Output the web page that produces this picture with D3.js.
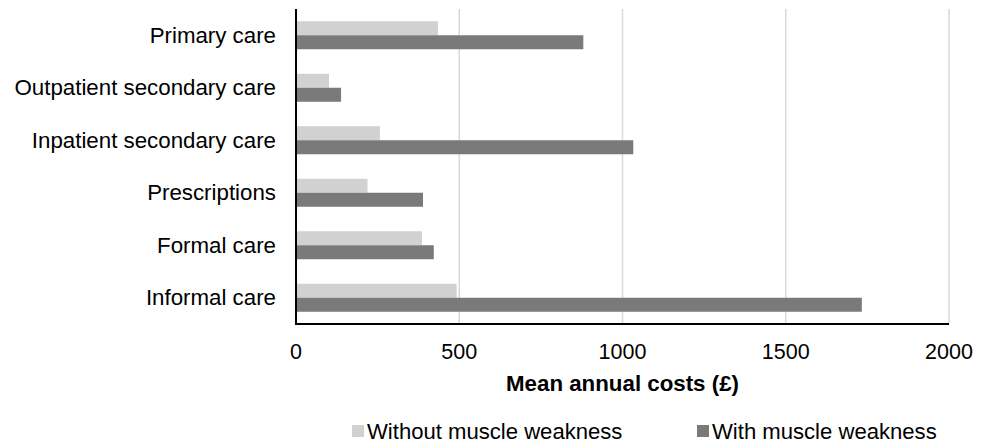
<!DOCTYPE html>
<html>
<head>
<meta charset="utf-8">
<script src="https://cdn.jsdelivr.net/npm/d3@7"></script>
<style>
  html, body { margin: 0; padding: 0; background: #fff; }
  svg { display: block; font-family: "Liberation Sans", Arial, sans-serif; }
</style>
</head>
<body>
<svg id="chart" width="988" height="445"></svg>
<script>
const categories = ["Primary care", "Outpatient secondary care", "Inpatient secondary care", "Prescriptions", "Formal care", "Informal care"];
const seriesNames = ["Without muscle weakness", "With muscle weakness"];
const withoutWeakness = [435, 101, 257, 219, 386, 492];
const withWeakness = [880, 138, 1033, 389, 422, 1733];
const xTicks = [0, 500, 1000, 1500, 2000];
const xTitle = "Mean annual costs (£)";
const colors = ["#d0d1d0", "#7a7a7a"];

(function () {
const svg = d3.select("#chart");
const mLeft = 296, mRight = 949, mTop = 9, mBottom = 324;

const x = d3.scaleLinear().domain([0, 2000]).range([mLeft, mRight]);
const y = d3.scaleBand().domain(categories).range([mTop, mBottom]).paddingInner(0.4667).paddingOuter(0.2333);
const ySub = d3.scaleBand().domain(seriesNames).range([0, y.bandwidth()]);

// gridlines
svg.append("g").selectAll("line").data(xTicks.filter(d => d > 0)).join("line")
  .attr("x1", d => x(d)).attr("x2", d => x(d))
  .attr("y1", mTop).attr("y2", mBottom)
  .attr("stroke", "#d9d9d9").attr("stroke-width", 1.5);

// bars
const data = categories.map((c, i) => ({ cat: c, vals: [withoutWeakness[i], withWeakness[i]] }));
const groups = svg.append("g").selectAll("g").data(data).join("g")
  .attr("transform", d => `translate(0,${y(d.cat)})`);
groups.selectAll("rect").data(d => d.vals.map((v, j) => ({ v, s: seriesNames[j], j }))).join("rect")
  .attr("x", x(0))
  .attr("y", d => ySub(d.s))
  .attr("width", d => x(d.v) - x(0))
  .attr("height", ySub.bandwidth())
  .attr("fill", d => colors[d.j]);

// axes lines
svg.append("line").attr("x1", x(0)).attr("x2", x(0)).attr("y1", mTop).attr("y2", mBottom + 1)
  .attr("stroke", "#000").attr("stroke-width", 2);
svg.append("line").attr("x1", x(0) - 1).attr("x2", mRight).attr("y1", mBottom).attr("y2", mBottom)
  .attr("stroke", "#000").attr("stroke-width", 2);

// category labels
svg.append("g").selectAll("text").data(categories).join("text")
  .attr("x", 276)
  .attr("y", d => y(d) + y.bandwidth() / 2 + 7.5)
  .attr("text-anchor", "end")
  .attr("font-size", 22.3)
  .attr("fill", "#000")
  .text(d => d);

// x tick labels
svg.append("g").selectAll("text").data(xTicks).join("text")
  .attr("x", d => x(d))
  .attr("y", 358.5)
  .attr("text-anchor", "middle")
  .attr("font-size", 21.5)
  .attr("fill", "#000")
  .text(d => d);

// x title
svg.append("text")
  .attr("x", x(1000)).attr("y", 391)
  .attr("text-anchor", "middle")
  .attr("font-size", 22.3).attr("font-weight", "bold")
  .attr("fill", "#000")
  .text(xTitle);

// legend
const legendX = [352, 697];
const leg = svg.append("g").selectAll("g").data(seriesNames).join("g")
  .attr("transform", (d, i) => `translate(${legendX[i]},0)`);
leg.append("rect").attr("x", 0).attr("y", 425).attr("width", 12).attr("height", 12)
  .attr("fill", (d, i) => colors[i]);
leg.append("text").attr("x", 15).attr("y", 438.5)
  .attr("font-size", 22.1).attr("fill", "#000")
  .text(d => d);
})();
</script>
</body>
</html>
